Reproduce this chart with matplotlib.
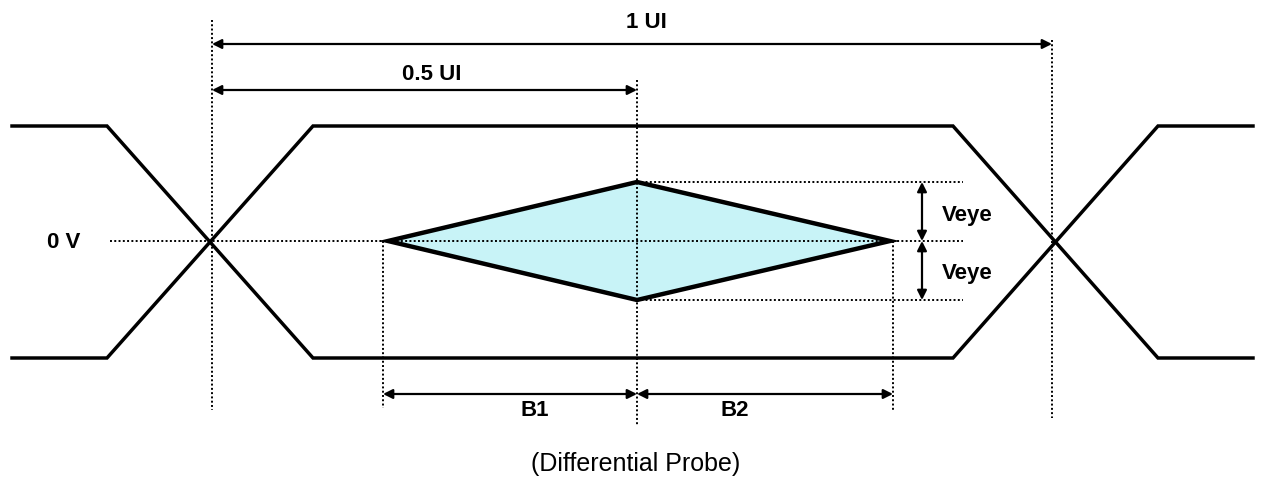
import numpy as np
import matplotlib.pyplot as plt

# drawing units are pixels of the 1261x483 picture (y grows downward)
y_high, y_zero, y_low = 126, 241, 358

trace_x = [12, 107, 313, 953, 1158, 1253]
trace_a = [y_high, y_high, y_low, y_low, y_high, y_high]
trace_b = [y_low, y_low, y_high, y_high, y_low, y_low]

eye_x = [388, 637, 890, 637]
eye_y = [241, 182, 241, 300]

x_cross1, x_cross2, x_mid = 212, 1052, 637

plt.rcParams['font.family'] = ['Liberation Sans', 'DejaVu Sans']

fig = plt.figure(figsize=(12.61, 4.83), dpi=100)
ax = fig.add_axes([0, 0, 1, 1])
ax.set_xlim(0, 1261)
ax.set_ylim(483, 0)
ax.axis('off')

# waveforms
ax.plot(trace_x, trace_a, color='black', lw=2.5, solid_joinstyle='miter')
ax.plot(trace_x, trace_b, color='black', lw=2.5, solid_joinstyle='miter')

# eye mask
ax.fill(eye_x, eye_y, facecolor='#c8f3f7', edgecolor='black', lw=3.2, joinstyle='miter', zorder=3)

dot = dict(color='black', lw=1.4, ls=(0, (1, 1.2)), zorder=4)
# vertical guides
ax.plot([x_cross1, x_cross1], [20, 410], **dot)
ax.plot([x_cross2, x_cross2], [40, 418], **dot)
ax.plot([x_mid, x_mid], [80, 426], **dot)
ax.plot([eye_x[0] - 5, eye_x[0] - 5], [y_zero, 408], **dot)
ax.plot([eye_x[2] + 3, eye_x[2] + 3], [y_zero, 410], **dot)
# horizontal guides
ax.plot([110, 963], [y_zero, y_zero], **dot)
ax.plot([eye_x[1], 963], [eye_y[1], eye_y[1]], **dot)
ax.plot([eye_x[3], 963], [eye_y[3], eye_y[3]], **dot)

arr = dict(arrowstyle='<|-|>', color='black', lw=1.6, mutation_scale=14,
           shrinkA=0, shrinkB=0)

def dim(x0, y0, x1, y1):
    ax.annotate('', xy=(x1, y1), xytext=(x0, y0), arrowprops=arr, zorder=5)

dim(x_cross1, 44, x_cross2, 44)
dim(x_cross1, 90, x_mid, 90)
dim(eye_x[0] - 5, 394, x_mid, 394)
dim(x_mid, 394, eye_x[2] + 3, 394)
dim(922, eye_y[1], 922, y_zero)
dim(922, y_zero, 922, eye_y[3])

bold = dict(fontsize=16, fontweight='bold', ha='center', va='center')
ax.text(646, 22, '1 UI', **bold)
ax.text(432, 75, '0.5 UI', **bold)
ax.text(64, 242, '0 V', **bold)
ax.text(967, 216, 'Veye', **bold)
ax.text(967, 273, 'Veye', **bold)
ax.text(535, 410, 'B1', **bold)
ax.text(735, 410, 'B2', **bold)
ax.text(636, 464, '(Differential Probe)', fontsize=18, ha='center', va='center')

fig.savefig('out.png', dpi=100)
